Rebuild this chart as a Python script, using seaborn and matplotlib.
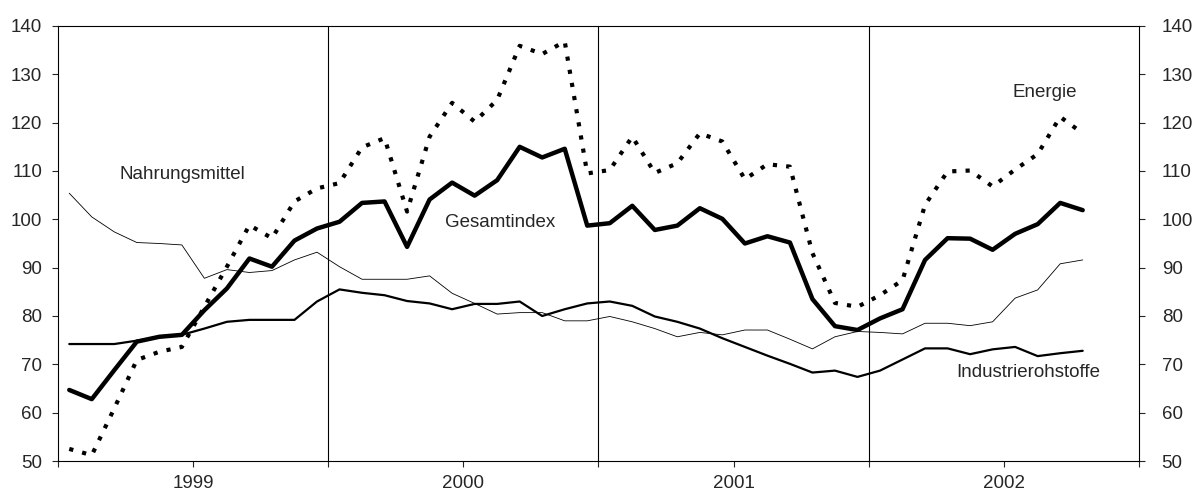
import numpy as np
import pandas as pd
import matplotlib
matplotlib.use("Agg")
import matplotlib.pyplot as plt
import matplotlib.transforms as mtransforms
import seaborn as sns

# monthly index values, Jan 1999 - Oct 2002
years = ["1999", "2000", "2001", "2002"]

gesamtindex = [64.7, 62.8, 68.8, 74.7, 75.7, 76.1, 81.2, 85.7, 91.9, 90.2, 95.6, 98.1,
               99.5, 103.4, 103.7, 94.3, 104.1, 107.6, 104.9, 108.1, 115.0, 112.8, 114.6, 98.7,
               99.2, 102.8, 97.8, 98.7, 102.3, 100.1, 95.0, 96.5, 95.2, 83.5, 77.9, 77.1,
               79.5, 81.4, 91.6, 96.1, 96.0, 93.7, 97.0, 99.0, 103.4, 101.9]

energie = [52.5, 51.2, 60.9, 70.9, 72.6, 73.6, 81.9, 90.2, 98.8, 96.1, 103.7, 106.4,
           107.5, 114.9, 116.8, 101.6, 117.1, 124.1, 120.2, 124.7, 135.9, 134.2, 136.8, 109.5,
           110.2, 117.1, 109.6, 111.6, 117.8, 116.1, 108.3, 111.4, 110.9, 93.0, 82.7, 81.9,
           84.3, 87.4, 103.0, 109.9, 110.1, 106.8, 110.3, 113.5, 121.2, 117.8]

nahrungsmittel = [105.4, 100.5, 97.4, 95.2, 95.0, 94.7, 87.8, 89.6, 89.0, 89.4, 91.6, 93.2,
                  90.2, 87.6, 87.6, 87.6, 88.3, 84.7, 82.6, 80.4, 80.7, 80.7, 79.0, 79.0,
                  79.9, 78.8, 77.4, 75.7, 76.6, 76.1, 77.1, 77.1, 75.2, 73.2, 75.7, 76.8,
                  76.6, 76.3, 78.5, 78.5, 78.0, 78.8, 83.7, 85.4, 90.8, 91.6]

industrie = [74.2, 74.2, 74.2, 74.9, 75.6, 76.1, 77.4, 78.8, 79.2, 79.2, 79.2, 83.0,
             85.5, 84.8, 84.3, 83.1, 82.6, 81.4, 82.5, 82.5, 83.0, 80.0, 81.4, 82.6,
             83.0, 82.1, 79.9, 78.8, 77.4, 75.4, 73.6, 71.8, 70.1, 68.3, 68.7, 67.4,
             68.7, 71.0, 73.3, 73.3, 72.1, 73.1, 73.6, 71.7, 72.3, 72.8]

month = np.arange(len(gesamtindex))

sns.set_style("ticks")
plt.rcParams['font.family'] = ['Liberation Sans', 'DejaVu Sans']

fig = plt.figure(figsize=(11.94, 4.93), dpi=100)
ax = fig.add_axes([58 / 1194, 1 - 461 / 493, (1139 - 58) / 1194, (461 - 26) / 493])

sns.lineplot(x=month, y=nahrungsmittel, ax=ax, color='black', linewidth=0.6)
sns.lineplot(x=month, y=industrie, ax=ax, color='black', linewidth=1.6)
sns.lineplot(x=month, y=energie, ax=ax, color='black', linewidth=3.0, linestyle=(0, (1, 2.2)))
sns.lineplot(x=month, y=gesamtindex, ax=ax, color='black', linewidth=3.2)

ax.set_xlim(-0.5, 47.5)
ax.set_ylim(50, 140)

# year boundaries
for b in [11.5, 23.5, 35.5]:
    ax.axvline(b, color='black', linewidth=0.8)

ax.set_xticks([-0.5, 11.5, 23.5, 35.5, 47.5])
ax.set_xticklabels([])
ax.set_xticks([5.5, 17.5, 29.5, 41.5], minor=True)
ax.set_xticklabels(years, minor=True)
ax.tick_params(axis='x', which='both', direction='out', length=4, width=0.8, labelsize=13.5, pad=6)

ax.set_yticks(range(50, 141, 10))
ax.tick_params(axis='y', direction='out', length=4.3, width=0.8, labelsize=13.5, pad=7,
               right=True, labelright=True, left=True, labelleft=True)

# right-hand labels sit a bit further out
offset = mtransforms.ScaledTranslation(5 / 72, 0, fig.dpi_scale_trans)
for t in ax.yaxis.get_major_ticks():
    t.label2.set_transform(t.label2.get_transform() + offset)

for s in ax.spines.values():
    s.set_color('black')
    s.set_linewidth(0.8)

ax.text(2.25, 109.2, "Nahrungsmittel", fontsize=13.5, va='center')
ax.text(16.7, 99.4, "Gesamtindex", fontsize=13.5, va='center')
ax.text(41.9, 126.3, "Energie", fontsize=13.5, va='center')
ax.text(39.4, 68.4, "Industrierohstoffe", fontsize=13.5, va='center')

fig.savefig("out.png", dpi=100)
